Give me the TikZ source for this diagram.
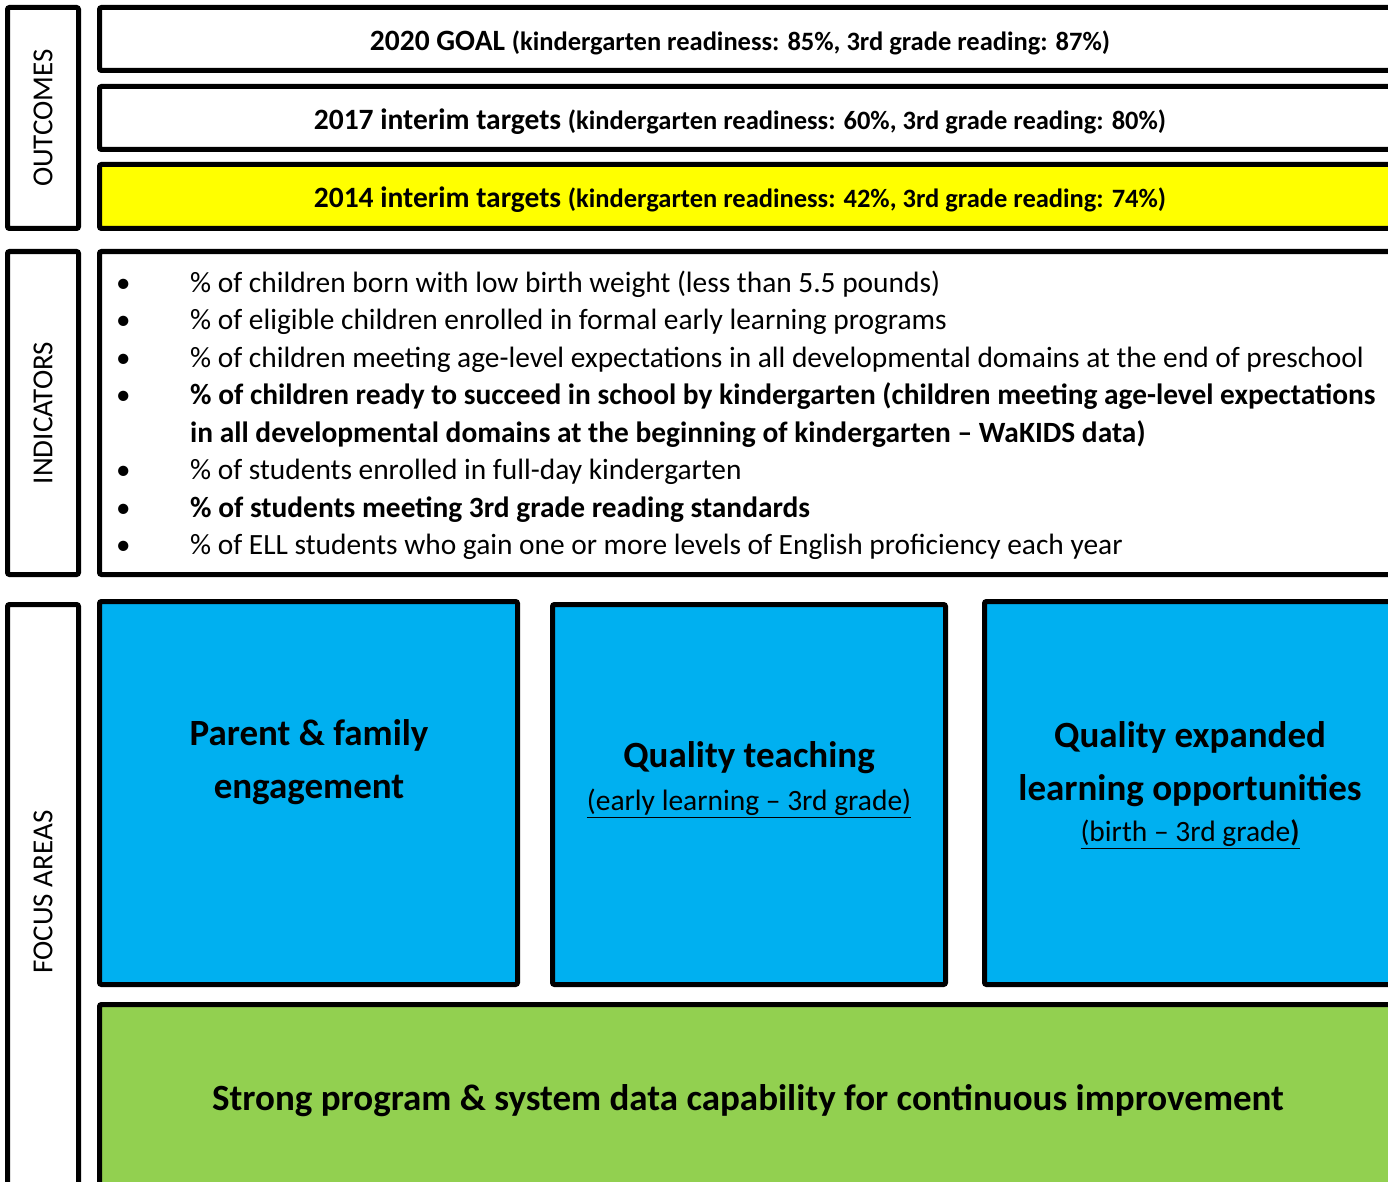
\documentclass[tikz,border=0pt]{standalone}
\usepackage{fontspec}
\setmainfont{Carlito}
\definecolor{fyellow}{HTML}{FFFF00}
\definecolor{fblue}{HTML}{00B0F0}
\definecolor{fgreen}{HTML}{92D050}
\newcommand{\mainsz}{\fontsize{29.5}{32}\selectfont}
\newcommand{\parsz}{\fontsize{26.5}{32}\selectfont}
\newcommand{\bul}{\hspace{3pt}{\fontsize{29}{30}\selectfont\textbullet}}
\begin{document}
\begin{tikzpicture}[x=1pt,y=-1pt,
  box/.style={draw=black,line width=5pt,rounded corners=2pt,inner sep=0pt,outer sep=0pt},
  vlabel/.style={rotate=90,font=\fontsize{29}{32}\selectfont},
  ttl/.style={font=\bfseries},
  big/.style={font=\fontsize{37}{53}\selectfont\bfseries,align=center},
  sub/.style={font=\fontsize{29.5}{32}\selectfont}]
\clip (0,0) rectangle (1388,1182);
\fill[white] (0,0) rectangle (1388,1182);
% left column
\draw[box] (7.5,7.5) rectangle (78.5,228.5);
\node[vlabel] (lo) at (43,118) {OUTCOMES};
\draw[box] (7.5,251.5) rectangle (78.5,574.5);
\node[vlabel] (li) at (43,413) {INDICATORS};
\draw[box] (7.5,604.5) rectangle (78.5,1200);
\node[vlabel] (lf) at (43,892) {FOCUS AREAS};
% outcomes
\draw[box] (99.5,7.5) rectangle (1393,70.5);
\node[ttl] (g20) at (740,43) {\mainsz 2020 GOAL \parsz(kindergarten readiness: 85\%, 3rd grade reading: 87\%)};
\draw[box] (99.5,86.5) rectangle (1393,149.5);
\node[ttl] (g17) at (740,122) {\mainsz 2017 interim targets \parsz(kindergarten readiness: 60\%, 3rd grade reading: 80\%)};
\draw[box,fill=fyellow] (99.5,164.5) rectangle (1393,228.5);
\node[ttl] (g14) at (740,200) {\mainsz 2014 interim targets \parsz(kindergarten readiness: 42\%, 3rd grade reading: 74\%)};
% indicators
\draw[box] (99.5,251.5) rectangle (1393,574.5);
\node[anchor=north west,inner sep=0pt,font=\fontsize{29.4}{37.5}\selectfont] (ind) at (113,266) {%
\begin{tabular}{@{}p{77pt}@{}l@{}}
\bul & \% of children born with low birth weight (less than 5.5 pounds)\\
\bul & \% of eligible children enrolled in formal early learning programs\\
\bul & \% of children meeting age-level expectations in all developmental domains at the end of preschool\\
\bul & \textbf{\% of children ready to succeed in school by kindergarten (children meeting age-level expectations}\\
 & \textbf{in all developmental domains at the beginning of kindergarten – WaKIDS data)}\\
\bul & \% of students enrolled in full-day kindergarten\\
\bul & \textbf{\% of students meeting 3rd grade reading standards}\\
\bul & \% of ELL students who gain one or more levels of English proficiency each year
\end{tabular}};
% focus areas
\draw[box,fill=fblue] (99.5,601.5) rectangle (517.5,984.5);
\node[big] (f1) at (309,762) {Parent \& family\\engagement};
\draw[box,fill=fblue] (552.5,604.5) rectangle (945.5,984.5);
\node[big] (f2) at (749,758) {Quality teaching};
\node[sub] (f2s) at (749,803) {\underline{(early learning – 3rd grade)}};
\draw[box,fill=fblue] (984.5,601.5) rectangle (1393,984.5);
\node[big] (f3) at (1190,764) {Quality expanded\\learning opportunities};
\node[sub] (f3s) at (1190,834) {\underline{(birth – 3rd grade\textbf{)}}};
\draw[box,fill=fgreen] (99.5,1004.5) rectangle (1393,1200);
\node[big] (gr) at (748,1101) {Strong program \& system data capability for continuous improvement};
\end{tikzpicture}
\end{document}
